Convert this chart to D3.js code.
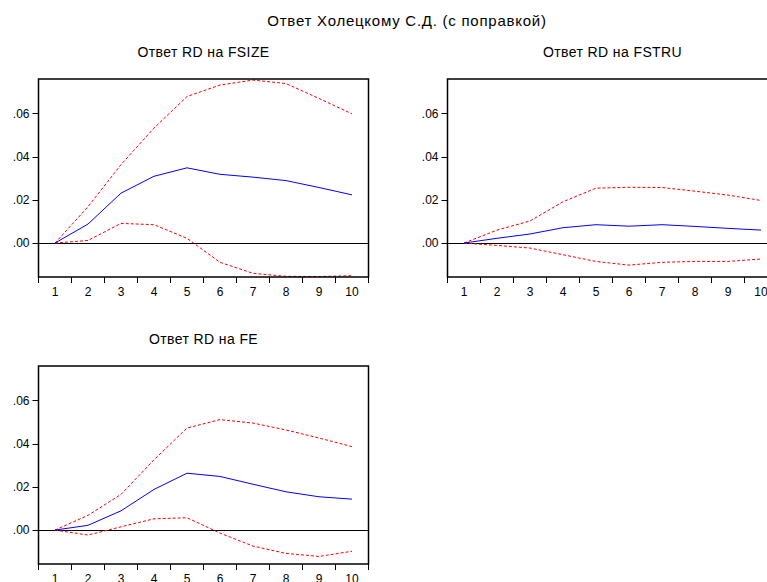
<!DOCTYPE html>
<html>
<head>
<meta charset="utf-8">
<script src="https://cdn.jsdelivr.net/npm/d3@7"></script>
<style>
  body { margin: 0; background: #fff; }
  svg { display: block; font-family: "Liberation Sans", Arial, sans-serif; }
</style>
</head>
<body>
<div id="chart"></div>
<script>
// periods 1..10
const periods = [1, 2, 3, 4, 5, 6, 7, 8, 9, 10]
const yTicks = [0, 0.02, 0.04, 0.06]

const titles = ["Ответ RD на FSIZE", "Ответ RD на FSTRU", "Ответ RD на FE"]

// response and +/- 2 s.e. bands
const fsizeResp = [0, 0.0088, 0.0231, 0.0309, 0.0348, 0.0318, 0.0305, 0.0289, 0.0257, 0.0223]
const fsizeUpper = [0, 0.0168, 0.0363, 0.0532, 0.0678, 0.0731, 0.0754, 0.0738, 0.0669, 0.0598]
const fsizeLower = [0, 0.0012, 0.0091, 0.0085, 0.0022, -0.0089, -0.0140, -0.0154, -0.0155, -0.0151]

const fstruResp = [0, 0.0022, 0.0042, 0.0071, 0.0085, 0.0078, 0.0085, 0.0077, 0.0068, 0.0060]
const fstruUpper = [0, 0.0060, 0.0102, 0.0191, 0.0254, 0.0258, 0.0257, 0.0240, 0.0222, 0.0197]
const fstruLower = [0, -0.0011, -0.0023, -0.0054, -0.0085, -0.0102, -0.0089, -0.0085, -0.0085, -0.0074]

const feResp = [0, 0.0022, 0.0089, 0.0188, 0.0263, 0.0248, 0.0212, 0.0177, 0.0154, 0.0143]
const feUpper = [0, 0.0068, 0.0165, 0.0325, 0.0472, 0.0511, 0.0495, 0.0463, 0.0426, 0.0386]
const feLower = [0, -0.0023, 0.0015, 0.0052, 0.0057, -0.0014, -0.0074, -0.0108, -0.0122, -0.0098]

const width = 767
const height = 582

const svg = d3.select("#chart").append("svg")
    .attr("width", width)
    .attr("height", height)

svg.append("text")
    .attr("x", 407)
    .attr("y", 25.5)
    .attr("text-anchor", "middle")
    .style("font-size", "15px")
    .style("letter-spacing", "0.75px")
    .text("Ответ Холецкому С.Д. (с поправкой)")

const panels = [
  { title: titles[0], resp: fsizeResp, upper: fsizeUpper, lower: fsizeLower, left: 38.5, top: 79 },
  { title: titles[1], resp: fstruResp, upper: fstruUpper, lower: fstruLower, left: 447.5, top: 79 },
  { title: titles[2], resp: feResp, upper: feUpper, lower: feLower, left: 38.5, top: 366 }
]

const panelW = 330
const panelH = 198

panels.forEach(p => drawPanel(p))

function drawPanel(p) {
  const g = svg.append("g")
      .attr("transform", `translate(${p.left}, ${p.top})`)

  const xScale = d3.scaleBand()
    .domain(periods)
    .range([0, panelW])

  const yScale = d3.scaleLinear()
    .domain([-0.0157, 0.0759])
    .range([panelH, 0])

  const xPos = d => xScale(d) + xScale.bandwidth() / 2

  g.append("text")
      .attr("x", panelW / 2)
      .attr("y", -22)
      .attr("text-anchor", "middle")
      .style("font-size", "14px")
      .style("letter-spacing", "0.4px")
      .text(p.title)

  // y axis ticks and labels
  g.selectAll(".ytick")
    .data(yTicks)
    .join("line")
      .attr("class", "ytick")
      .attr("x1", -6)
      .attr("x2", 0)
      .attr("y1", d => Math.round(yScale(d)) + 0.5)
      .attr("y2", d => Math.round(yScale(d)) + 0.5)
      .attr("stroke", "#000")

  g.selectAll(".ylab")
    .data(yTicks)
    .join("text")
      .attr("class", "ylab")
      .attr("x", -9)
      .attr("y", d => yScale(d))
      .attr("dy", "0.35em")
      .attr("text-anchor", "end")
      .style("font-size", "12px")
      .text(d => d3.format(".2f")(d).replace(/^0/, ""))

  // bottom ticks, between periods
  const tickEdges = periods.map(d => xScale(d)).concat([panelW])
  g.selectAll(".xtick")
    .data(tickEdges)
    .join("line")
      .attr("class", "xtick")
      .attr("x1", d => d)
      .attr("x2", d => d)
      .attr("y1", panelH)
      .attr("y2", panelH + 6)
      .attr("stroke", "#000")
      .attr("stroke-width", 1)

  g.selectAll(".xlab")
    .data(periods)
    .join("text")
      .attr("class", "xlab")
      .attr("x", xPos)
      .attr("y", panelH + 15)
      .attr("dy", "0.35em")
      .attr("text-anchor", "middle")
      .style("font-size", "12px")
      .text(d => d)

  // zero line
  g.append("line")
      .attr("x1", 0)
      .attr("x2", panelW)
      .attr("y1", Math.round(yScale(0)) + 0.5)
      .attr("y2", Math.round(yScale(0)) + 0.5)
      .attr("stroke", "#000")
      .attr("stroke-width", 1)

  const line = d3.line()
    .x((d, i) => xPos(periods[i]))
    .y(d => yScale(d))

  g.append("path")
      .attr("d", line(p.upper))
      .attr("fill", "none")
      .attr("stroke", "#ff0000")
      .attr("stroke-width", 1)
      .attr("stroke-dasharray", "3,2")

  g.append("path")
      .attr("d", line(p.lower))
      .attr("fill", "none")
      .attr("stroke", "#ff0000")
      .attr("stroke-width", 1)
      .attr("stroke-dasharray", "3,2")

  g.append("path")
      .attr("d", line(p.resp))
      .attr("fill", "none")
      .attr("stroke", "#0000ff")
      .attr("stroke-width", 1)

  // frame
  g.append("rect")
      .attr("x", 0)
      .attr("y", 0)
      .attr("width", panelW)
      .attr("height", panelH)
      .attr("fill", "none")
      .attr("stroke", "#000")
      .attr("stroke-width", 1.5)
}
</script>
</body>
</html>
